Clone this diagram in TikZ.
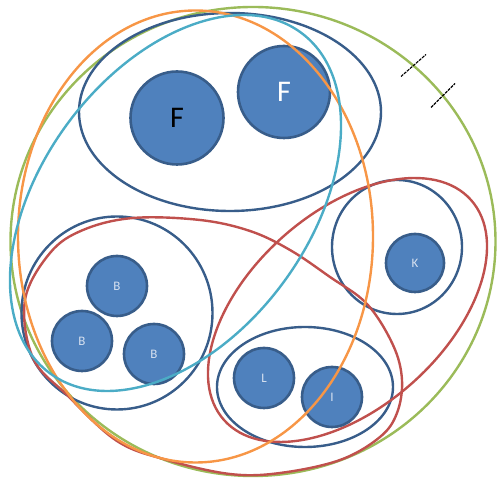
\documentclass[tikz,border=0pt]{standalone}
\usepackage{fontspec}
\setmainfont{Carlito}
\definecolor{dblue}{HTML}{385D8A}
\definecolor{fblue}{HTML}{4F81BD}
\definecolor{cgreen}{HTML}{9BBB59}
\definecolor{cred}{HTML}{C0504D}
\definecolor{corange}{HTML}{F79646}
\definecolor{ccyan}{HTML}{4BACC6}
\definecolor{pale}{RGB}{215,225,240}
\begin{document}
\begin{tikzpicture}[x=1pt,y=1pt,
  outl/.style={line width=2.4pt},
  ball/.style={circle, fill=fblue, draw=dblue, line width=2.6pt, inner sep=0pt, minimum size=#1},
  lbl/.style={text=pale, font=\fontsize{13}{13}\selectfont},
  bigf/.style={font=\fontsize{30}{30}\selectfont},
  tickmark/.style={black, line width=1.1pt, dash pattern=on 3pt off 1pt}
]
\useasboundingbox (0,0) rectangle (498,478);
% outer green
\draw[cgreen, outl] (253,236.5) ellipse [x radius=242.5pt, y radius=234.5pt];
\coordinate (t1a) at (401,401.5); \coordinate (t1b) at (426,423.5);
\coordinate (t2a) at (431,370.5); \coordinate (t2b) at (455,394.5);
\draw[tickmark] (t1a) -- (t1b);
\draw[tickmark] (t2a) -- (t2b);
% dark blue groups
\draw[dblue, outl] (230,366) ellipse [x radius=151pt, y radius=99pt];
\draw[dblue, outl] (117,165) ellipse [x radius=95.5pt, y radius=96.5pt];
\draw[dblue, outl] (397,231) ellipse [x radius=65pt, y radius=67pt];
\draw[dblue, outl] (305,91) ellipse [x radius=88pt, y radius=60pt];
% red A
\draw[cred, outl] plot[smooth cycle, tension=0.6] coordinates {
 (25,178) (50,225) (83,248) (133,260) (200,258) (250,247) (290,228) (330,201)
 (367,174) (393,133) (402,98) (397,65) (380,41) (340,18) (280,5) (230,4)
 (167,18) (117,37) (67,83) (33,120)};
% red B
\draw[cred, outl, rotate around={41.7:(347.5,168)}] (347.5,168) ellipse [x radius=165.4pt, y radius=97.6pt];
% circles
\node[ball=93pt, bigf, text=black] (f1) at (177,360) {F};
\node[ball=92pt, bigf, text=white] (f2) at (284,386) {F};
\node[ball=60pt, lbl] (b1) at (117,192) {B};
\node[ball=60pt, lbl] (b2) at (82,137) {B};
\node[ball=60pt, lbl] (b3) at (154,124) {B};
\node[ball=58pt, lbl] (k) at (415,215) {K};
\node[ball=60pt, lbl] (l) at (264,100) {L};
\node[ball=60pt, lbl] (i) at (332,81) {I};
% orange and cyan
\draw[corange, outl] (195.5,241.5) ellipse [x radius=177.5pt, y radius=226pt];
\draw[ccyan, outl, rotate around={53.6:(175.5,275)}] (175.5,275) ellipse [x radius=211.6pt, y radius=134pt];
\end{tikzpicture}
\end{document}
